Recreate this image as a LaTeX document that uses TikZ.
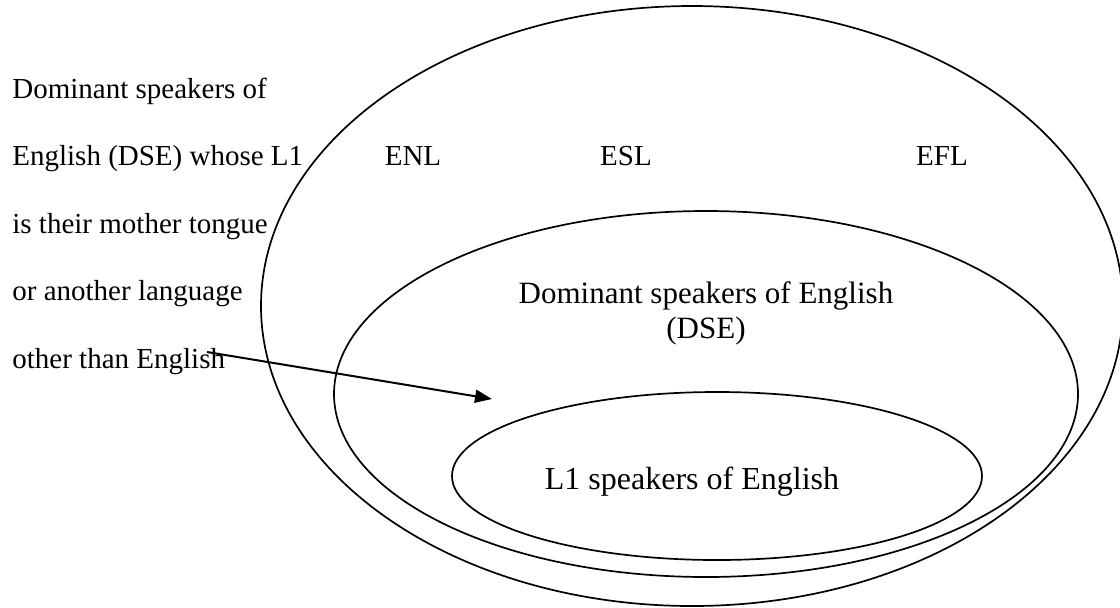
\documentclass[tikz,border=0pt]{standalone}
\usepackage{fontspec}
\setmainfont{Liberation Serif}
\usetikzlibrary{shapes.geometric, arrows.meta}

\begin{document}
\begin{tikzpicture}[x=0.5pt, y=-0.5pt,
    ring/.style={draw, ellipse, line width=0.85pt, inner sep=0pt},
    side/.style={anchor=base west, inner sep=0pt, font=\fontsize{14.5}{17}\selectfont},
    tag/.style={anchor=base, inner sep=0pt, font=\fontsize{14.5}{17}\selectfont},
    big/.style={anchor=base, inner sep=0pt, font=\fontsize{15.5}{18}\selectfont},
    conn/.style={-{Triangle[length=8.5pt, width=6.5pt]}, line width=1pt}]
  \useasboundingbox (0,0) rectangle (1120,607);
  \node[ring, minimum width=431pt, minimum height=300pt] (outer) at (692,306) {};
  \node[ring, minimum width=372pt, minimum height=183pt] (dse) at (706,394) {};
  \node[ring, minimum width=265pt, minimum height=84pt] (native) at (717,476) {};
  % left-hand explanation
  \foreach \txt [count=\i] in {Dominant speakers of, English (DSE) whose L1,
      is their mother tongue, or another language, other than English}
    \node[side] (left\i) at (12, 30.5+67.5*\i) {\txt};
  % circles of use
  \node[tag] (enl) at (413,165) {ENL};
  \node[tag] (esl) at (626,165) {ESL};
  \node[tag] (efl) at (942,165) {EFL};
  \node[big] (dsetop) at (706,303) {Dominant speakers of English};
  \node[big] (dsebot) at (706,338) {(DSE)};
  \node[big, font=\fontsize{16}{18}\selectfont] (l1) at (692,489) {L1 speakers of English};
  \coordinate (from) at (207,352);
  \coordinate (to) at (492,399);
  \draw[conn] (from) -- (to);
\end{tikzpicture}
\end{document}
